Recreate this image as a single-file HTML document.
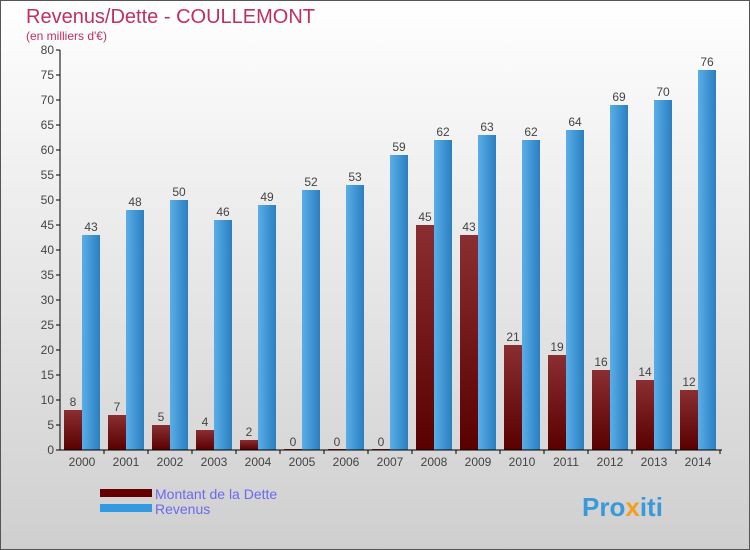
<!DOCTYPE html>
<html><head><meta charset="utf-8"><style>
body{margin:0;width:750px;height:550px;overflow:hidden}
svg{display:block;font-family:"Liberation Sans",sans-serif}
</style></head><body>
<svg id="c" width="750" height="550">
<defs>
<linearGradient id="bg" x1="0" y1="0" x2="0" y2="1"><stop offset="0" stop-color="#ffffff"/><stop offset="1" stop-color="#cfcfcf"/></linearGradient>
<linearGradient id="gd" x1="0" y1="0" x2="0" y2="1"><stop offset="0" stop-color="#8a2e32"/><stop offset="1" stop-color="#5a0000"/></linearGradient>
<linearGradient id="gr" x1="0" y1="0" x2="1" y2="0"><stop offset="0" stop-color="#5aaee8"/><stop offset="1" stop-color="#2a7fc0"/></linearGradient>
</defs>
<rect x="0.5" y="0.5" width="749" height="549" fill="url(#bg)" stroke="#555"/>
<text x="26" y="23" font-size="20" fill="#c0305f">Revenus/Dette - COULLEMONT</text>
<text x="26" y="40" font-size="12" fill="#c0305f">(en milliers d'€)</text>
<g id="plot"></g>
<rect x="100" y="489" width="52" height="8" fill="#640000"/>
<text x="155" y="499" font-size="14" fill="#6a6af0">Montant de la Dette</text>
<rect x="100" y="504" width="52" height="8" fill="#3399e0"/>
<text x="155" y="514" font-size="14" fill="#6a6af0">Revenus</text>
<text x="582" y="516" font-size="26" font-weight="bold" fill="#3a9ad9">Pro<tspan fill="#f0a020">x</tspan>iti</text>
</svg>
<script>
const years=["2000","2001","2002","2003","2004","2005","2006","2007","2008","2009","2010","2011","2012","2013","2014"];
const dette=[8,7,5,4,2,0,0,0,45,43,21,19,16,14,12];
const revenus=[43,48,50,46,49,52,53,59,62,63,62,64,69,70,76];
const yTicks=[0,5,10,15,20,25,30,35,40,45,50,55,60,65,70,75,80];
const NS="http://www.w3.org/2000/svg";
const g=document.getElementById('plot');
const y=v=>450-v*5;
const x=i=>60+44*i;
function el(t,a,txt){const e=document.createElementNS(NS,t);for(const k in a)e.setAttribute(k,a[k]);if(txt!=null)e.textContent=txt;g.appendChild(e);return e;}
yTicks.forEach(t=>{
 const l=el('line',{x1:56,x2:60,y1:y(t),y2:y(t),stroke:'#000'});
 
 
 const tx=el('text',{x:54,y:y(t)+4,'font-size':12,fill:'#444','text-anchor':'end'},t);
 
 
});
years.forEach((yr,i)=>{
 const b1=el('rect',{x:x(i)+4,y:y(dette[i])-(dette[i]===0?1:0),width:18,height:dette[i]*5+(dette[i]===0?1:0),fill:'url(#gd)'});
 
 
 const t1=el('text',{x:x(i)+13,y:y(dette[i])-4,'font-size':12,fill:'#444','text-anchor':'middle'},dette[i]);
 
 
 const b2=el('rect',{x:x(i)+22,y:y(revenus[i]),width:18,height:revenus[i]*5,fill:'url(#gr)'});
 
 
 const t2=el('text',{x:x(i)+31,y:y(revenus[i])-4,'font-size':12,fill:'#444','text-anchor':'middle'},revenus[i]);
 
 
 const tk=el('line',{x1:x(i)+44,x2:x(i)+44,y1:450,y2:454,stroke:'#000'});
 
 
 const xl=el('text',{x:x(i)+22,y:466,'font-size':12,fill:'#444','text-anchor':'middle'},yr);
 
 
});
const ya=el('line',{x1:60,x2:60,y1:50,y2:450,stroke:'#000'});


const xa=el('line',{x1:60,x2:722,y1:450,y2:450,stroke:'#000'});


</script>
</body></html>
